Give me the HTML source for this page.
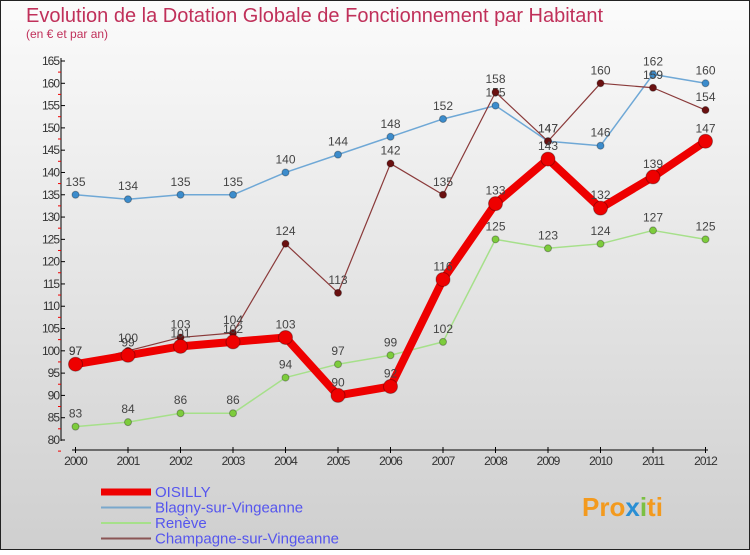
<!DOCTYPE html>
<html><head><meta charset="utf-8"><style>
body{margin:0;width:750px;height:550px;overflow:hidden;font-family:"Liberation Sans",sans-serif;}
svg text{font-family:"Liberation Sans",sans-serif;}
</style></head><body>
<svg id="c" width="750" height="550" xmlns="http://www.w3.org/2000/svg">
<defs><linearGradient id="bg" x1="0" y1="0" x2="0" y2="1"><stop offset="0" stop-color="#fbfbfb"/><stop offset="1" stop-color="#cfcfcf"/></linearGradient></defs>
<rect x="0.5" y="0.5" width="749" height="549" fill="url(#bg)" stroke="#222"/>
<text x="26" y="22" font-size="20" fill="#c0305a">Evolution de la Dotation Globale de Fonctionnement par Habitant</text>
<text x="26" y="38" font-size="12" fill="#c0305a">(en € et par an)</text>
<g id="axes"></g><g id="series"></g><g id="legend"></g>
<text x="582" y="516" font-size="26" font-weight="bold" fill="#f39a1e">Pro<tspan fill="#2a8fd4">x</tspan><tspan fill="#7bc043">i</tspan>ti</text>
</svg>
<script>
const years=[2000,2001,2002,2003,2004,2005,2006,2007,2008,2009,2010,2011,2012];
const yTicks=[80,85,90,95,100,105,110,115,120,125,130,135,140,145,150,155,160,165];
const oisilly=[97,99,101,102,103,90,92,116,133,143,132,139,147];
const blagny=[135,134,135,135,140,144,148,152,155,147,146,162,160];
const reneve=[83,84,86,86,94,97,99,102,125,123,124,127,125];
const champagne=[97,100,103,104,124,113,142,135,158,147,160,159,154];
const NS="http://www.w3.org/2000/svg";
const xS=i=>75.5+i*52.5;
const yS=v=>440-(v-80)*(379/85);
function mk(t,a,p){const e=document.createElementNS(NS,t);for(const k in a)e.setAttribute(k,a[k]);p.appendChild(e);return e;}
const ax=document.getElementById('axes');
let l=mk('line',{x1:61,y1:58,x2:61,y2:441,stroke:'#000'},ax);


l=mk('line',{x1:72,y1:450,x2:708,y2:450,stroke:'#000'},ax);


yTicks.forEach(v=>{const y=yS(v);
 mk('line',{x1:61,y1:y,x2:65,y2:y,stroke:'#000'},ax);
 mk('line',{x1:58,y1:y+11.1,x2:61,y2:y+11.1,stroke:'#e00'},ax);
 const t=mk('text',{x:59,y:y+4,'font-size':12,'text-anchor':'end',fill:'#333','letter-spacing':'-1'},ax);t.textContent=v;
 
 });
years.forEach((yr,i)=>{const x=xS(i);
 mk('line',{x1:x,y1:447,x2:x,y2:453,stroke:'#000'},ax);
 const t=mk('text',{x:x,y:465,'font-size':12,'text-anchor':'middle',fill:'#333','letter-spacing':'-1'},ax);t.textContent=yr;
 
 });
const sg=document.getElementById('series');
const series=[
 {n:'blagny',d:blagny,c:'#6fa8d6',pc:'#3c8ccc',w:1.5,r:3.5},
 {n:'reneve',d:reneve,c:'#a6e08a',pc:'#7dcc3c',w:1.5,r:3.5},
 {n:'champagne',d:champagne,c:'#8a3a3a',pc:'#6a1010',w:1.2,r:3.5},
 {n:'oisilly',d:oisilly,c:'#ee0000',pc:'#ee0000',w:8,r:7}];
series.forEach(s=>{
 const g=mk('g',{},sg);
 
 
 const p=mk('polyline',{points:s.d.map((v,i)=>xS(i)+','+yS(v)).join(' '),fill:'none',stroke:s.c,'stroke-width':s.w,'stroke-linejoin':'round'},g);
 
 
 s.d.forEach((v,i)=>{
  const c=mk('circle',{cx:xS(i),cy:yS(v),r:s.r,fill:s.pc,stroke:'rgba(0,0,0,0.3)'},g);
  
  
  const t=mk('text',{x:xS(i),y:yS(v)-9,'font-size':12,'text-anchor':'middle',fill:'#444'},g);t.textContent=v;
  
  
 });
});
const lg=document.getElementById('legend');
const leg=[['OISILLY','#ee0000',7],['Blagny-sur-Vingeanne','#7aa8cc',2],['Renève','#a6e08a',2],['Champagne-sur-Vingeanne','#8a5555',2]];
leg.forEach((e,i)=>{const y=492+i*15.5;
 const ln=mk('line',{x1:101,y1:y,x2:151,y2:y,stroke:e[1],'stroke-width':e[2]},lg);
 
 
 const t=mk('text',{x:155,y:y+5,'font-size':15,fill:'#5555ee'},lg);t.textContent=e[0];
 
 });
</script>
</body></html>
